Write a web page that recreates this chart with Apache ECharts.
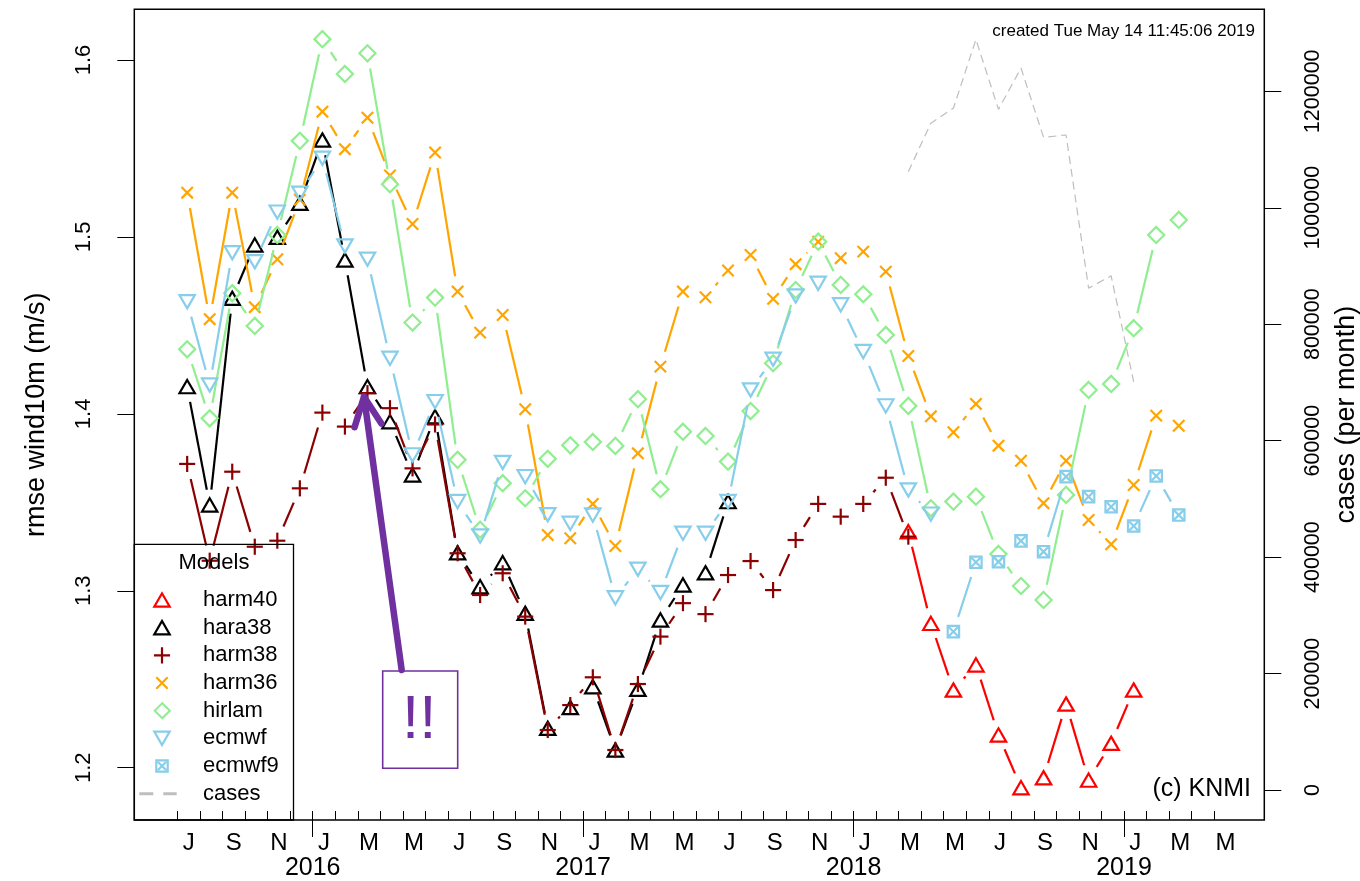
<!DOCTYPE html>
<html>
<head>
<meta charset="utf-8">
<script src="https://cdn.jsdelivr.net/npm/echarts@6/dist/echarts.min.js"></script>
<style>
html,body{margin:0;padding:0;background:#fff;}
#chart{width:1360px;height:881px;}
</style>
</head>
<body>
<div id="chart"></div>
<script>
// ---------------- data ----------------
const months = [
  '2015-07','2015-08','2015-09','2015-10','2015-11','2015-12',
  '2016-01','2016-02','2016-03','2016-04','2016-05','2016-06','2016-07','2016-08','2016-09','2016-10','2016-11','2016-12',
  '2017-01','2017-02','2017-03','2017-04','2017-05','2017-06','2017-07','2017-08','2017-09','2017-10','2017-11','2017-12',
  '2018-01','2018-02','2018-03','2018-04','2018-05','2018-06','2018-07','2018-08','2018-09','2018-10','2018-11','2018-12',
  '2019-01','2019-02','2019-03'
];
const monthTickLabels = ['J','S','N','J','M','M','J','S','N','J','M','M','J','S','N','J','M','M','J','S','N','J','M','M'];
const yearTickLabels = ['2016','2017','2018','2019'];
const rmseTicks = [1.2, 1.3, 1.4, 1.5, 1.6];
const casesTicks = [0, 200000, 400000, 600000, 800000, 1000000, 1200000];

const harm40Start = '2018-03';
const harm40 = [1.3334, 1.2816, 1.2439, 1.2581, 1.2185, 1.1887, 1.1943, 1.2360, 1.1930, 1.2138, 1.2439];

const hara38Start = '2015-07';
const hara38 = [1.4154, 1.3485, 1.4653, 1.4955, 1.4998, 1.5190, 1.5548, 1.4870, 1.4154, 1.3956, 1.3655, 1.3984,
  1.3215, 1.3023, 1.3159, 1.2873, 1.2223, 1.2340, 1.2458, 1.2100, 1.2443, 1.2835, 1.3033, 1.3102, 1.3504];

const harm38Start = '2015-07';
const harm38 = [1.3717, 1.3170, 1.3673, 1.3249, 1.3283, 1.3579, 1.4007, 1.3928, 1.4117, 1.4032, 1.3692, 1.3940,
  1.3212, 1.2976, 1.3099, 1.2854, 1.2213, 1.2354, 1.2511, 1.2100, 1.2473, 1.2741, 1.2930, 1.2868,
  1.3089, 1.3168, 1.3004, 1.3287, 1.3491, 1.3419, 1.3491, 1.3639, 1.3306];

const harm36Start = '2015-07';
const harm36 = [1.5250, 1.4535, 1.5250, 1.4603, 1.4874, 1.5210, 1.5708, 1.5496, 1.5674, 1.5347, 1.5073, 1.5477,
  1.4691, 1.4459, 1.4559, 1.4026, 1.3315, 1.3297, 1.3491, 1.3253, 1.3777, 1.4267, 1.4691, 1.4659,
  1.4810, 1.4898, 1.4650, 1.4846, 1.4973, 1.4880, 1.4917, 1.4804, 1.4327, 1.3986, 1.3896, 1.4056,
  1.3820, 1.3735, 1.3495, 1.3735, 1.3400, 1.3263, 1.3598, 1.3990, 1.3933];

const hirlamStart = '2015-07';
const hirlam = [1.4365, 1.3975, 1.4682, 1.4497, 1.5011, 1.5543, 1.6118, 1.5921, 1.6038, 1.5298, 1.4516, 1.4657,
  1.3740, 1.3345, 1.3608, 1.3523, 1.3746, 1.3822, 1.3841, 1.3819, 1.4083, 1.3574, 1.3899, 1.3875,
  1.3730, 1.4016, 1.4286, 1.4700, 1.4973, 1.4729, 1.4676, 1.4446, 1.4045, 1.3466, 1.3504, 1.3532,
  1.3208, 1.3027, 1.2948, 1.3542, 1.4135, 1.4169, 1.4484, 1.5011, 1.5096];

const ecmwfStart = '2015-07';
const ecmwf = [1.4634, 1.4163, 1.4911, 1.4860, 1.5140, 1.5247, 1.5445, 1.4949, 1.4874, 1.4314, 1.3768, 1.4069,
  1.3504, 1.3310, 1.3725, 1.3645, 1.3430, 1.3381, 1.3428, 1.2960, 1.3122, 1.2990, 1.3325, 1.3325,
  1.3504, 1.4135, 1.4309, 1.4666, 1.4738, 1.4616, 1.4352, 1.4045, 1.3570, 1.3433];

const ecmwf9Start = '2018-05';
const ecmwf9 = [1.2769, 1.3161, 1.3164, 1.3282, 1.3221, 1.3645, 1.3532, 1.3475, 1.3366, 1.3649, 1.3428];

const casesStart = '2018-03';
const cases = [1062000, 1145000, 1171000, 1289000, 1169000, 1240000, 1121000, 1125000, 862000, 883000, 701000];

// annotation anchor points (data coordinates)
const annot = {
  arrowTip: [8.277, 1.4097],
  arrowTail: [9.949, 1.2552],
  boxA: [9.106, 1.25466],
  boxB: [12.434, 1.19966],
  label: [10.726, 1.2267]
};

// ---------------- helpers ----------------
const FONT = '"Liberation Sans", Arial, Helvetica, sans-serif';
const DAY_FRAC = 0.43;   // points placed mid-month (15th)
const GAP = 15.5;        // R type="b" gap around points
const LW = 2.2;
const X_MIN = -1.916, X_MAX = 48.226;
const Y_MIN = 1.17044, Y_MAX = 1.62866;
const C_MIN = -51524, C_MAX = 1340850;

const monthIndex = k => months.indexOf(k);
const toPoints = (startKey, vals) => { const s = monthIndex(startKey); return vals.map((v, i) => [s + i + DAY_FRAC, v]); };

const monthBoundaryTicks = Array.from({length: 47}, (_, i) => i);
const monthLabelValues = monthTickLabels.map((_, k) => 2 * k + 0.5);
const yearTickValues = yearTickLabels.map(y => monthIndex(y + '-01'));

function markerEls(kind, x, y, color) {
  const s = {stroke: color, lineWidth: LW, fill: 'none'};
  const ln = (x1, y1, x2, y2) => ({type: 'line', shape: {x1, y1, x2, y2}, style: s});
  switch (kind) {
    case 'tri': return [{type: 'polygon', shape: {points: [[x, y - 6.65], [x + 7.7, y + 6.65], [x - 7.7, y + 6.65]]}, style: s}];
    case 'tridown': return [{type: 'polygon', shape: {points: [[x, y + 6.65], [x + 7.7, y - 6.65], [x - 7.7, y - 6.65]]}, style: s}];
    case 'diamond': return [{type: 'polygon', shape: {points: [[x, y - 8.06], [x + 8.06, y], [x, y + 8.06], [x - 8.06, y]]}, style: s}];
    case 'plus': return [ln(x - 8.06, y, x + 8.06, y), ln(x, y - 8.06, x, y + 8.06)];
    case 'cross': return [ln(x - 5.7, y - 5.7, x + 5.7, y + 5.7), ln(x - 5.7, y + 5.7, x + 5.7, y - 5.7)];
    case 'sqx': return [{type: 'rect', shape: {x: x - 5.7, y: y - 5.7, width: 11.4, height: 11.4}, style: s},
      ln(x - 5.7, y - 5.7, x + 5.7, y + 5.7), ln(x - 5.7, y + 5.7, x + 5.7, y - 5.7)];
  }
  return [];
}

function makeRender(points, kind, color) {
  return function (params, api) {
    const i = params.dataIndex;
    const p = api.coord(points[i]);
    const children = [];
    if (i + 1 < points.length) {
      const q = api.coord(points[i + 1]);
      const dx = q[0] - p[0], dy = q[1] - p[1], L = Math.hypot(dx, dy);
      if (L > 2 * GAP) {
        const ux = dx / L, uy = dy / L;
        children.push({type: 'line',
          shape: {x1: p[0] + ux * GAP, y1: p[1] + uy * GAP, x2: q[0] - ux * GAP, y2: q[1] - uy * GAP},
          style: {stroke: color, lineWidth: LW}});
      }
    }
    markerEls(kind, p[0], p[1], color).forEach(e => children.push(e));
    return {type: 'group', children};
  };
}

// legend icon paths (filled outlines) in a 64x18 box, symbol centred at (28,9)
const IC = [28, 9];
const fmt = n => n.toFixed(2);
const P = pts => 'M' + pts.map(p => fmt(p[0]) + ' ' + fmt(p[1])).join('L') + 'Z';
const SPECKS = 'M0 0L0.01 0L0.01 0.01Z M64 18L63.99 18L63.99 17.99Z';
function ring(pts, c, inr, w) {
  const sc = f => pts.map(p => [c[0] + (p[0] - c[0]) * f, c[1] + (p[1] - c[1]) * f]);
  return P(sc((inr + w / 2) / inr)) + P(sc((inr - w / 2) / inr).reverse());
}
function bar(x1, y1, x2, y2, w) {
  const L = Math.hypot(x2 - x1, y2 - y1), ux = (x2 - x1) / L, uy = (y2 - y1) / L;
  const nx = -uy * w / 2, ny = ux * w / 2;
  return P([[x1 + nx, y1 + ny], [x2 + nx, y2 + ny], [x2 - nx, y2 - ny], [x1 - nx, y1 - ny]]);
}
const [cx, cy] = IC;
const iconPaths = {
  tri: ring([[cx, cy - 6.65], [cx + 7.7, cy + 6.65], [cx - 7.7, cy + 6.65]], [cx, cy + 2.21], 4.44, LW),
  tridown: ring([[cx, cy + 6.65], [cx - 7.7, cy - 6.65], [cx + 7.7, cy - 6.65]], [cx, cy - 2.21], 4.44, LW),
  diamond: ring([[cx, cy - 8.06], [cx + 8.06, cy], [cx, cy + 8.06], [cx - 8.06, cy]], [cx, cy], 5.7, LW),
  plus: bar(cx - 8.06, cy, cx + 8.06, cy, LW) + bar(cx, cy - 8.06, cx, cy + 8.06, LW),
  cross: bar(cx - 5.7, cy - 5.7, cx + 5.7, cy + 5.7, LW) + bar(cx - 5.7, cy + 5.7, cx + 5.7, cy - 5.7, LW),
  sqx: ring([[cx - 5.7, cy - 5.7], [cx + 5.7, cy - 5.7], [cx + 5.7, cy + 5.7], [cx - 5.7, cy + 5.7]], [cx, cy], 5.7, LW)
       + bar(cx - 4.3, cy - 4.3, cx + 4.3, cy + 4.3, LW) + bar(cx - 4.3, cy + 4.3, cx + 4.3, cy - 4.3, LW),
  dash: P([[5.3, 7.5], [19.3, 7.5], [19.3, 10.5], [5.3, 10.5]]) + P([[29.3, 7.5], [42.7, 7.5], [42.7, 10.5], [29.3, 10.5]])
};

const models = [
  {name: 'harm40', start: harm40Start, values: harm40, kind: 'tri', color: '#FF0000'},
  {name: 'hara38', start: hara38Start, values: hara38, kind: 'tri', color: '#000000'},
  {name: 'harm38', start: harm38Start, values: harm38, kind: 'plus', color: '#8B0000'},
  {name: 'harm36', start: harm36Start, values: harm36, kind: 'cross', color: '#FFA500'},
  {name: 'hirlam', start: hirlamStart, values: hirlam, kind: 'diamond', color: '#90EE90'},
  {name: 'ecmwf', start: ecmwfStart, values: ecmwf, kind: 'tridown', color: '#87CEEB'},
  {name: 'ecmwf9', start: ecmwf9Start, values: ecmwf9, kind: 'sqx', color: '#87CEEB'}
];

const series = [{
  name: 'cases', type: 'line', xAxisIndex: 0, yAxisIndex: 1,
  data: toPoints(casesStart, cases), symbol: 'none', silent: true, z: 1,
  itemStyle: {color: '#BEBEBE'},
  lineStyle: {color: '#BEBEBE', width: 1.2, type: [8, 5]}
}];
models.forEach(m => {
  const pts = toPoints(m.start, m.values);
  series.push({
    name: m.name, type: 'custom', xAxisIndex: 0, yAxisIndex: 0,
    data: pts, encode: {x: 0, y: 1}, silent: true,
    itemStyle: {color: m.color},
    renderItem: makeRender(pts, m.kind, m.color)
  });
});

const legendData = models.map(m => ({
  name: m.name, icon: 'path://' + SPECKS + iconPaths[m.kind], itemStyle: {color: m.color, borderWidth: 0}
}));
legendData.push({name: 'cases', icon: 'path://' + SPECKS + iconPaths.dash, itemStyle: {color: '#BEBEBE', borderWidth: 0}});

const axisFont = {color: '#000', fontFamily: FONT};
const noLine = {show: false, onZero: false};

const option = {
  animation: false,
  backgroundColor: '#fff',
  grid: {left: 134.3, right: 95.7, top: 9.3, bottom: 61, show: true, borderColor: '#000', borderWidth: 1.5,
         backgroundColor: 'transparent', containLabel: false, outerBoundsMode: 'none'},
  legend: {
    orient: 'vertical', left: 134, top: 589, padding: 0, itemGap: 5.67,
    itemWidth: 64, itemHeight: 18, selectedMode: false, symbolKeepAspect: true,
    textStyle: {fontSize: 22, lineHeight: 22, color: '#000', fontFamily: FONT},
    data: legendData
  },
  xAxis: [{
    type: 'value', gridIndex: 0, position: 'bottom', min: X_MIN, max: X_MAX,
    axisLine: noLine, splitLine: {show: false},
    axisTick: {show: true, inside: true, length: 9, customValues: monthBoundaryTicks, lineStyle: {color: '#000', width: 1}},
    axisLabel: Object.assign({show: true, customValues: monthLabelValues, margin: 11, fontSize: 24,
      formatter: v => monthTickLabels[Math.round((v - 0.5) / 2)]}, axisFont)
  }, {
    type: 'value', gridIndex: 0, position: 'bottom', offset: 0, min: X_MIN, max: X_MAX,
    axisLine: noLine, splitLine: {show: false},
    axisTick: {show: true, inside: false, length: 17, customValues: yearTickValues, lineStyle: {color: '#000', width: 1}},
    axisLabel: Object.assign({show: true, customValues: yearTickValues, margin: 36, fontSize: 25,
      formatter: v => yearTickLabels[yearTickValues.indexOf(Math.round(v))]}, axisFont)
  }],
  yAxis: [{
    type: 'value', gridIndex: 0, position: 'left', min: Y_MIN, max: Y_MAX,
    axisLine: noLine, splitLine: {show: false},
    axisTick: {show: true, length: 17, customValues: rmseTicks, lineStyle: {color: '#000', width: 1}},
    axisLabel: Object.assign({show: true, customValues: rmseTicks, rotate: 90, margin: 39, fontSize: 22,
      formatter: v => v.toFixed(1)}, axisFont),
    name: 'rmse wind10m (m/s)', nameLocation: 'middle', nameRotate: 90, nameGap: 84, nameMoveOverlap: false,
    nameTextStyle: {fontSize: 27, color: '#000', fontFamily: FONT}
  }, {
    type: 'value', gridIndex: 0, position: 'right', min: C_MIN, max: C_MAX,
    axisLine: noLine, splitLine: {show: false},
    axisTick: {show: true, length: 17, customValues: casesTicks, lineStyle: {color: '#000', width: 1}},
    axisLabel: Object.assign({show: true, customValues: casesTicks, rotate: 90, margin: 38, fontSize: 21.5,
      formatter: v => String(Math.round(v))}, axisFont),
    name: 'cases (per month)', nameLocation: 'middle', nameRotate: 90, nameGap: 69, nameMoveOverlap: false,
    nameTextStyle: {fontSize: 27, color: '#000', fontFamily: FONT}
  }],
  series: series
};

const chart = echarts.init(document.getElementById('chart'), null, {renderer: 'canvas'});
chart.setOption(option);

// ---------------- annotations ----------------
const finder = {xAxisIndex: 0, yAxisIndex: 0};
const tip = chart.convertToPixel(finder, annot.arrowTip);
const tail = chart.convertToPixel(finder, annot.arrowTail);
const bA = chart.convertToPixel(finder, annot.boxA);
const bB = chart.convertToPixel(finder, annot.boxB);
const lab = chart.convertToPixel(finder, annot.label);
const PURPLE = '#7030A0';
const dx = tail[0] - tip[0], dy = tail[1] - tip[1], dl = Math.hypot(dx, dy);
const bx = dx / dl, by = dy / dl, HL = 32, HA = 25 * Math.PI / 180;
const rot = a => [tip[0] + HL * (bx * Math.cos(a) - by * Math.sin(a)), tip[1] + HL * (bx * Math.sin(a) + by * Math.cos(a))];

chart.setOption({
  graphic: [
    {type: 'rect', silent: true, z: 50, shape: {x: 134.3, y: 544.3, width: 159.2, height: 275.7},
     style: {fill: 'none', stroke: '#000', lineWidth: 1.3}},
    {type: 'text', silent: true, z: 50, x: 214, y: 563,
     style: {text: 'Models', fontSize: 22, fontFamily: FONT, fill: '#000', align: 'center', verticalAlign: 'middle'}},
    {type: 'text', silent: true, z: 50, x: 1255, y: 31,
     style: {text: 'created Tue May 14 11:45:06 2019', fontSize: 17, fontFamily: FONT, fill: '#000', align: 'right', verticalAlign: 'middle'}},
    {type: 'text', silent: true, z: 50, x: 1251, y: 789,
     style: {text: '(c) KNMI', fontSize: 25, fontFamily: FONT, fill: '#000', align: 'right', verticalAlign: 'middle'}},
    {type: 'line', silent: true, z: 60, shape: {x1: tail[0], y1: tail[1], x2: tip[0], y2: tip[1]},
     style: {stroke: PURPLE, lineWidth: 6.5, lineCap: 'round'}},
    {type: 'polyline', silent: true, z: 60, shape: {points: [rot(HA), tip, rot(-HA)]},
     style: {stroke: PURPLE, lineWidth: 6.5, lineCap: 'round', lineJoin: 'round', fill: 'none'}},
    {type: 'rect', silent: true, z: 60,
     shape: {x: Math.min(bA[0], bB[0]), y: Math.min(bA[1], bB[1]), width: Math.abs(bB[0] - bA[0]), height: Math.abs(bB[1] - bA[1])},
     style: {fill: 'none', stroke: PURPLE, lineWidth: 1.6}},
    {type: 'text', silent: true, z: 60, x: lab[0], y: lab[1],
     style: {text: '!!', fontSize: 62, fontFamily: FONT, fill: PURPLE, align: 'center', verticalAlign: 'middle'}}
  ]
});
</script>
</body>
</html>
